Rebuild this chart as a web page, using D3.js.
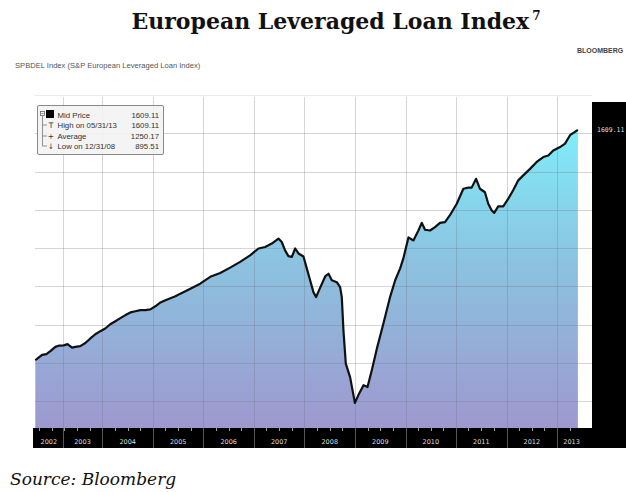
<!DOCTYPE html>
<html><head><meta charset="utf-8">
<script src="https://cdn.jsdelivr.net/npm/d3@7"></script>
<style>body{margin:0;background:#fff}svg{display:block}</style>
</head><body>
<script>
// ---- data ----
const dates = ["2002-09-03","2002-09-27","2002-10-22","2002-11-22","2002-12-21","2003-01-26","2003-02-19","2003-03-27","2003-04-24","2003-05-27","2003-06-19","2003-07-25","2003-08-31","2003-10-06","2003-11-11","2003-12-17","2004-01-22","2004-02-27","2004-04-04","2004-05-10","2004-06-16","2004-07-22","2004-08-27","2004-10-02","2004-11-07","2004-12-13","2005-01-18","2005-02-24","2005-04-01","2005-05-07","2005-06-12","2005-07-18","2005-09-28","2005-12-08","2006-02-19","2006-05-02","2006-07-13","2006-09-23","2006-12-04","2007-02-03","2007-03-23","2007-05-10","2007-06-27","2007-07-21","2007-08-14","2007-09-07","2007-10-02","2007-10-26","2007-11-19","2007-12-25","2008-01-18","2008-02-11","2008-03-06","2008-03-25","2008-04-23","2008-05-30","2008-06-23","2008-07-17","2008-08-22","2008-09-15","2008-09-27","2008-10-09","2008-10-26","2008-11-26","2008-12-31","2009-01-25","2009-03-03","2009-04-01","2009-05-02","2009-06-08","2009-07-25","2009-09-11","2009-10-18","2009-11-23","2009-12-16","2010-01-22","2010-02-27","2010-04-04","2010-04-28","2010-05-22","2010-06-27","2010-08-02","2010-09-07","2010-10-13","2010-11-18","2011-01-06","2011-02-23","2011-03-31","2011-04-24","2011-05-26","2011-06-23","2011-07-29","2011-08-22","2011-09-15","2011-10-04","2011-11-02","2011-12-08","2012-01-14","2012-02-18","2012-03-26","2012-05-01","2012-06-19","2012-08-06","2012-09-23","2012-10-29","2012-12-04","2013-01-22","2013-02-27","2013-04-04","2013-05-31"];
const prices = [1007,1014,1021,1023,1031,1042,1045,1046,1049,1040,1042,1044,1052,1064,1075,1083,1090,1101,1109,1117,1125,1132,1135,1138,1138,1140,1148,1158,1164,1169,1174,1181,1194,1207,1225,1235,1249,1264,1281,1299,1303,1312,1325,1316,1294,1279,1277,1299,1286,1278,1247,1216,1185,1172,1196,1226,1233,1216,1211,1198,1172,1085,998,963,895.51,916,942,937,981,1038,1103,1172,1216,1247,1273,1328,1320,1346,1366,1348,1346,1355,1366,1368,1386,1416,1455,1458,1458,1481,1455,1446,1416,1399,1392,1409,1409,1429,1451,1477,1490,1507,1525,1538,1542,1555,1564,1573,1595,1609.11];
const yearLabels = ["2002","2003","2004","2005","2006","2007","2008","2009","2010","2011","2012","2013"];
const yearBreaks = ["2003-03-20","2004-01-01","2005-01-01","2006-01-01","2007-01-01","2008-01-01","2009-01-01","2010-01-01","2011-01-01","2012-01-01","2013-01-01"];
const xDomain = ["2002-09-01","2013-09-10"];
const yGrid = [900,1000,1100,1200,1300,1400,1500,1600,1700];
const legendRows = [
  {label:"Mid Price", value:"1609.11"},
  {label:"High on 05/31/13", value:"1609.11"},
  {label:"Average", value:"1250.17"},
  {label:"Low on 12/31/08", value:"895.51"}
];
const lastValueLabel = "1609.11";

// ---- layout ----
const W = 626, H = 492;
const plot = {left:35, right:592, top:95, bottom:428};
const parse = d3.timeParse("%Y-%m-%d");
const data = dates.map((d,i)=>({date:parse(d), v:prices[i]}));

const svg = d3.select("body").append("svg").attr("width",W).attr("height",H);

const x = d3.scaleTime().domain(xDomain.map(parse)).range([plot.left, plot.right]);
const y = d3.scaleLinear().domain([830,1700]).range([plot.bottom, plot.top]);

// title
const title = svg.append("text").attr("x",336).attr("y",29).attr("text-anchor","middle")
  .attr("font-family","'DejaVu Serif', serif").attr("font-weight","bold").attr("font-size",22).attr("fill","#111");
title.append("tspan").text("European Leveraged Loan Index");
title.append("tspan").attr("font-size",12).attr("dy",-9).attr("dx",3).text("7");

// top-right Bloomberg mark
svg.append("text").attr("x",577).attr("y",53).attr("font-family","'Liberation Sans',sans-serif")
  .attr("font-weight","bold").attr("font-size",7).attr("fill","#444").text("BLOOMBERG");

// subtitle
svg.append("text").attr("x",15).attr("y",68).attr("font-family","'Liberation Sans',Arial,sans-serif")
  .attr("font-size",7.6).attr("fill","#555").text("SPBDEL Index (S&P European Leveraged Loan Index)");

// gradient
const defs = svg.append("defs");
const grad = defs.append("linearGradient").attr("id","fillg").attr("gradientUnits","userSpaceOnUse")
  .attr("x1",0).attr("x2",0).attr("y1",y(1609)).attr("y2",plot.bottom);
grad.append("stop").attr("offset",0).attr("stop-color","#80ecf9");
grad.append("stop").attr("offset",0.45).attr("stop-color","#8cc2df");
grad.append("stop").attr("offset",1).attr("stop-color","#9e98cf");

// area
const area = d3.area().x(d=>x(d.date)).y0(plot.bottom).y1(d=>y(d.v));
svg.append("path").datum(data).attr("d",area).attr("fill","url(#fillg)");

// grid lines
const g = svg.append("g");
g.selectAll("line.h").data(yGrid).join("line")
  .attr("x1",plot.left).attr("x2",plot.right).attr("y1",d=>Math.round(y(d))+0.5).attr("y2",d=>Math.round(y(d))+0.5)
  .attr("stroke","#6f6f88").attr("stroke-opacity",d=>d===1700?0.15:0.3).attr("stroke-width",1);
g.selectAll("line.v").data(yearBreaks.map(parse)).join("line")
  .attr("x1",d=>Math.round(x(d))+0.5).attr("x2",d=>Math.round(x(d))+0.5).attr("y1",plot.top+2).attr("y2",plot.bottom)
  .attr("stroke","#6f6f88").attr("stroke-opacity",0.3).attr("stroke-width",1);

// price line
const line = d3.line().x(d=>x(d.date)).y(d=>y(d.v));
svg.append("path").datum(data).attr("d",line).attr("fill","none").attr("stroke","#111")
  .attr("stroke-width",2.2).attr("stroke-linejoin","round");

// bottom axis band
svg.append("rect").attr("x",plot.left-2).attr("y",plot.bottom).attr("width",W-plot.left+2).attr("height",20).attr("fill","#000");
// right panel
svg.append("rect").attr("x",plot.right).attr("y",102).attr("width",W-plot.right).attr("height",plot.bottom+20-102).attr("fill","#000");
svg.append("text").attr("x",597).attr("y",132).attr("font-family","'DejaVu Sans Mono',monospace")
  .attr("font-size",6.5).attr("fill","#ddd").text(lastValueLabel);

// quarterly minor ticks
const quarters = d3.timeMonth.every(3).range(parse(xDomain[0]), parse("2013-07-01"));
svg.selectAll("line.q").data(quarters).join("line")
  .attr("x1",d=>Math.round(x(d))+0.5).attr("x2",d=>Math.round(x(d))+0.5)
  .attr("y1",plot.bottom).attr("y2",plot.bottom+3).attr("stroke","#999").attr("stroke-width",1);
// year separators in band
svg.selectAll("line.ys").data(yearBreaks.map(parse)).join("line")
  .attr("x1",d=>Math.round(x(d))+0.5).attr("x2",d=>Math.round(x(d))+0.5)
  .attr("y1",plot.bottom).attr("y2",plot.bottom+20).attr("stroke","#555").attr("stroke-width",1);
// year labels
const bounds = [parse(xDomain[0]), ...yearBreaks.map(parse), parse(xDomain[1])];
svg.selectAll("text.yl").data(yearLabels).join("text")
  .attr("x",(d,i)=> (x(bounds[i])+x(bounds[i+1]))/2 + (i===yearLabels.length-1?-3:0))
  .attr("y",plot.bottom+16).attr("text-anchor","middle")
  .attr("font-family","'DejaVu Sans',sans-serif").attr("font-size",6.5).attr("fill","#ddd").text(d=>d);

// legend
const lg = svg.append("g");
lg.append("rect").attr("x",37.5).attr("y",105.5).attr("width",126).attr("height",49)
  .attr("fill","#f3f3f3").attr("fill-opacity",0.9).attr("stroke","#888").attr("rx",1.5);
lg.append("rect").attr("x",40.5).attr("y",111.5).attr("width",4).attr("height",4).attr("fill","none").attr("stroke","#666").attr("stroke-width",0.8);
lg.append("line").attr("x1",41.5).attr("x2",43.5).attr("y1",113.5).attr("y2",113.5).attr("stroke","#666").attr("stroke-width",0.8);
lg.append("rect").attr("x",46).attr("y",110).attr("width",8).attr("height",8).attr("fill","#000");
lg.append("line").attr("x1",42.5).attr("x2",42.5).attr("y1",116).attr("y2",146).attr("stroke","#777").attr("stroke-width",0.8);
const rowY = [118,128,139,149];
[1,2,3].forEach(i=>{
  lg.append("line").attr("x1",42.5).attr("x2",47).attr("y1",rowY[i]-3).attr("y2",rowY[i]-3).attr("stroke","#777").attr("stroke-width",0.8);
});
lg.append("text").attr("x",51).attr("y",rowY[1]).attr("font-family","'DejaVu Sans',sans-serif").attr("font-size",7.5).attr("fill","#333").attr("text-anchor","middle").text("T");
lg.append("text").attr("x",51).attr("y",rowY[2]).attr("font-family","'DejaVu Sans',sans-serif").attr("font-size",7.5).attr("fill","#333").attr("text-anchor","middle").text("+");
lg.append("text").attr("x",51).attr("y",rowY[3]).attr("font-family","'DejaVu Sans',sans-serif").attr("font-size",7.5).attr("fill","#333").attr("text-anchor","middle").text("↓");
lg.selectAll("text.lab").data(legendRows).join("text")
  .attr("x",57.5).attr("y",(d,i)=>rowY[i]).attr("font-family","'Liberation Sans',Arial,sans-serif")
  .attr("font-size",7.8).attr("fill","#333").text(d=>d.label);
lg.selectAll("text.val").data(legendRows).join("text")
  .attr("x",159).attr("y",(d,i)=>rowY[i]).attr("text-anchor","end").attr("font-family","'Liberation Sans',Arial,sans-serif")
  .attr("font-size",7.8).attr("fill","#333").text(d=>d.value);

// source
svg.append("text").attr("x",10).attr("y",485).attr("font-family","'DejaVu Serif',serif").attr("font-style","italic")
  .attr("font-size",17).attr("fill","#111").text("Source: Bloomberg");
</script>
</body></html>
